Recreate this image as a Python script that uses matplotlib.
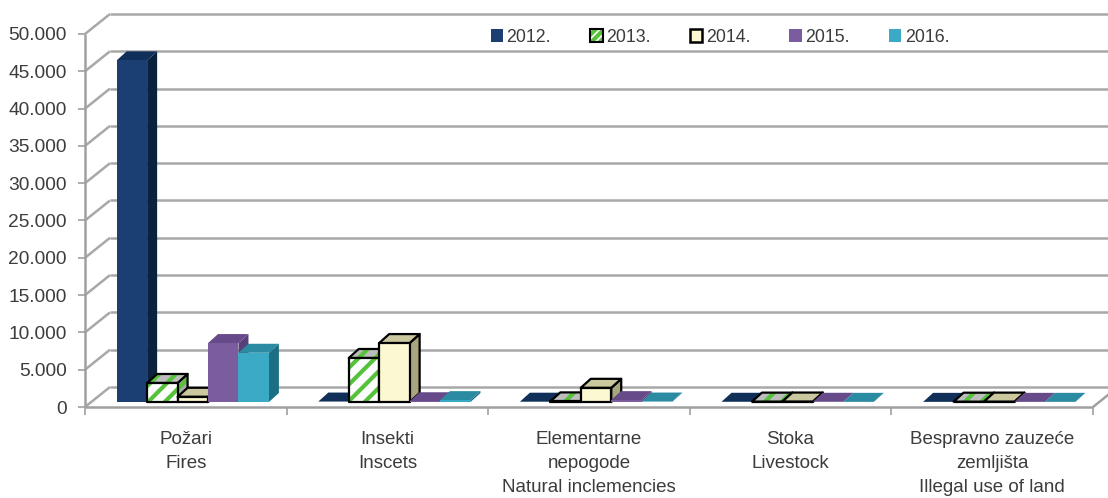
import matplotlib
matplotlib.use("Agg")
import matplotlib.pyplot as plt
from matplotlib.patches import Polygon, Patch
from matplotlib.lines import Line2D
from matplotlib.transforms import IdentityTransform
from matplotlib.legend_handler import HandlerTuple
from matplotlib import font_manager as fm

# ---------------- data ----------------
categories = ["Požari\nFires", "Insekti\nInscets", "Elementarne\nnepogode\nNatural inclemencies",
              "Stoka\nLivestock", "Bespravno zauzeće\nzemljišta\nIllegal use of land"]
years = ["2012.", "2013.", "2014.", "2015.", "2016."]
v2012 = [45800, 60, 40, 30, 20]
v2013 = [2550, 5900, 80, 50, 40]
v2014 = [700, 7900, 1900, 60, 50]
v2015 = [7900, 100, 250, 30, 20]
v2016 = [6600, 250, 60, 20, 20]
series = [v2012, v2013, v2014, v2015, v2016]
yticks = [0, 5000, 10000, 15000, 20000, 25000, 30000, 35000, 40000, 45000, 50000]
yticklabels = ["0", "5.000", "10.000", "15.000", "20.000", "25.000", "30.000",
               "35.000", "40.000", "45.000", "50.000"]

# ---------------- style ----------------
def pick(names):
    for n in names:
        try:
            fm.findfont(fm.FontProperties(family=n), fallback_to_default=False)
            return n
        except Exception:
            pass
    return "DejaVu Sans"

font = pick(["Liberation Sans Narrow", "Arial Narrow", "Liberation Sans"])
plt.rcParams["font.family"] = [font, "DejaVu Sans"]
GREEN = "#55C23A"
plt.rcParams["hatch.color"] = GREEN
plt.rcParams["hatch.linewidth"] = 3.0

front_col = ["#1B3F73", "white", "#FCF8D2", "#7B5C9E", "#3BAAC6"]
side_col = ["#0B223F", "#A9A9A9", "#A8A67E", "#58407A", "#1B6E83"]
top_col = ["#10305A", "#BDBDBD", "#CBC8A0", "#674A8A", "#2B8BA3"]
edge_black = [False, True, True, False, False]
hatched = [False, True, False, False, False]

W, H = 1108, 498
fig = plt.figure(figsize=(W / 100, H / 100), dpi=100)
ax = fig.add_axes([85 / W, (H - 407) / H, (1093 - 85) / W, (407 - 34) / H])
ax.set_xlim(-0.5, 4.5)
ax.set_ylim(0, 50000)
ax.patch.set_visible(False)
for s in ax.spines.values():
    s.set_visible(False)

TXT = "#3C3C3C"
ax.set_yticks(yticks)
ax.set_yticklabels(yticklabels)
ax.tick_params(axis="y", length=5, width=1.2, color="#A0A0A0", labelsize=13.8,
               labelcolor=TXT, pad=8)
ax.set_xticks(range(5))
ax.set_xticklabels(categories, fontsize=13.5, color=TXT, linespacing=1.55, va="top")
ax.tick_params(axis="x", which="major", length=0, pad=17)
ax.set_xticks([-0.5, 0.5, 1.5, 2.5, 3.5, 4.5], minor=True)
ax.tick_params(axis="x", which="minor", length=6, width=1.2, color="#A0A0A0")

fig.canvas.draw()
T = ax.transData
ID = IdentityTransform()
BACK = (25, 20)
BF = (7, 5)
BB = (17, 14)


def P(x, y, off=(0, 0)):
    X, Y = T.transform((x, y))
    return (X + off[0], Y + off[1])


def line(p, q, color="#A8A8A8", lw=1.8, z=1):
    fig.add_artist(Line2D([p[0], q[0]], [p[1], q[1]], transform=ID, color=color,
                          lw=lw, zorder=z, solid_capstyle="butt"))


# walls and gridlines
for v in yticks:
    line(P(-0.5, v, BACK), P(4.5, v, BACK))
    line(P(-0.5, v), P(-0.5, v, BACK))
line(P(-0.5, 0), P(-0.5, 50000), color="#A0A0A0")
line(P(-0.5, 0), P(4.5, 0), color="#A0A0A0")
line(P(4.5, 0), P(4.5, 0, BACK), color="#A0A0A0")

# bars
bw = 0.151
z = 3
for i in range(len(categories)):
    for j, vals in enumerate(series):
        h = vals[i]
        x0 = i - 2.5 * bw + j * bw
        x1 = x0 + bw
        hatch = "//" if hatched[j] else None
        faces = [
            ([P(x1, 0, BF), P(x1, h, BF), P(x1, h, BB), P(x1, 0, BB)], side_col[j]),
            ([P(x0, h, BF), P(x1, h, BF), P(x1, h, BB), P(x0, h, BB)], top_col[j]),
            ([P(x0, 0, BF), P(x1, 0, BF), P(x1, h, BF), P(x0, h, BF)], front_col[j]),
        ]
        for pts, col in faces:
            fig.add_artist(Polygon(pts, closed=True, transform=ID, facecolor=col,
                                   hatch=hatch, lw=0, zorder=z))
            z += 0.01
            if edge_black[j]:
                fig.add_artist(Polygon(pts, closed=True, transform=ID, fill=False,
                                       edgecolor="black", lw=1.6, zorder=z,
                                       joinstyle="round"))
                z += 0.01

# legend
handles = [
    Patch(facecolor=front_col[0], lw=0),
    (Patch(facecolor="white", hatch="////", lw=0), Patch(fill=False, edgecolor="black", lw=1.5)),
    Patch(facecolor=front_col[2], edgecolor="black", lw=1.8),
    Patch(facecolor=front_col[3], lw=0),
    Patch(facecolor=front_col[4], lw=0),
]
fig.legend(handles, years, loc="center", bbox_to_anchor=(720 / W, (H - 37) / H),
           ncol=5, frameon=False, fontsize=12.8, handlelength=0.7, handleheight=0.7,
           handletextpad=0.2, columnspacing=2.2, labelcolor=TXT,
           handler_map={tuple: HandlerTuple(ndivide=1, pad=0)})

fig.savefig("out.png", dpi=100)
